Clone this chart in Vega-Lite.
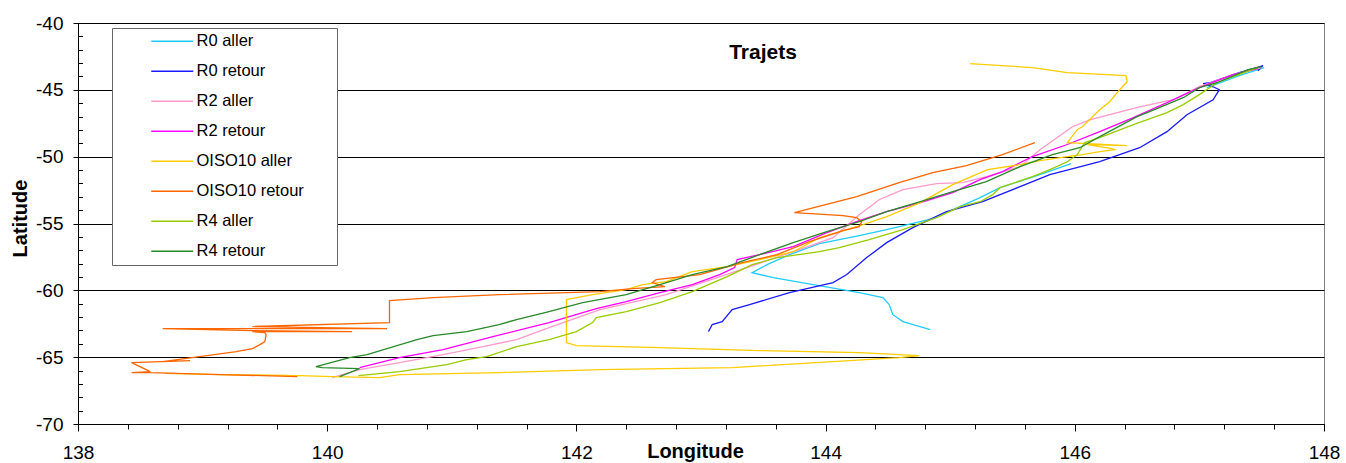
{
  "$schema": "https://vega.github.io/schema/vega-lite/v6.json",
  "width": 1246,
  "height": 401,
  "autosize": {"type": "none"},
  "padding": {"left": 78, "top": 23, "right": 22, "bottom": 39},
  "background": "white",
  "config": {"view": {"stroke": "#808080", "strokeWidth": 1}, "font": "Liberation Sans"},
  "title": {"text": "Trajets", "fontSize": 21, "fontWeight": "bold", "font": "Liberation Sans", "color": "#000", "anchor": "middle", "frame": "group", "dx": 62, "offset": -49},
  "layer": [
    {
      "data": {"values": [
        {"s":"R0 aller","i":1,"lon":147.52,"lat":-43.34},
        {"s":"R0 aller","i":2,"lon":147.32,"lat":-43.94},
        {"s":"R0 aller","i":3,"lon":147.06,"lat":-44.84},
        {"s":"R0 aller","i":4,"lon":null,"lat":null},
        {"s":"R0 aller","i":5,"lon":145.97,"lat":-50.52},
        {"s":"R0 aller","i":6,"lon":145.72,"lat":-51.35},
        {"s":"R0 aller","i":7,"lon":145.40,"lat":-52.32},
        {"s":"R0 aller","i":8,"lon":145.24,"lat":-53.07},
        {"s":"R0 aller","i":9,"lon":144.86,"lat":-54.64},
        {"s":"R0 aller","i":10,"lon":144.49,"lat":-55.46},
        {"s":"R0 aller","i":11,"lon":144.27,"lat":-55.91},
        {"s":"R0 aller","i":12,"lon":143.95,"lat":-56.51},
        {"s":"R0 aller","i":13,"lon":143.71,"lat":-57.33},
        {"s":"R0 aller","i":14,"lon":143.53,"lat":-58.08},
        {"s":"R0 aller","i":15,"lon":143.41,"lat":-58.68},
        {"s":"R0 aller","i":16,"lon":143.58,"lat":-59.05},
        {"s":"R0 aller","i":17,"lon":143.90,"lat":-59.57},
        {"s":"R0 aller","i":18,"lon":144.27,"lat":-60.17},
        {"s":"R0 aller","i":19,"lon":144.46,"lat":-60.54},
        {"s":"R0 aller","i":20,"lon":144.51,"lat":-61.07},
        {"s":"R0 aller","i":21,"lon":144.54,"lat":-61.82},
        {"s":"R0 aller","i":22,"lon":144.62,"lat":-62.34},
        {"s":"R0 aller","i":23,"lon":144.84,"lat":-62.94},

        {"s":"R0 retour","i":1,"lon":143.06,"lat":-63.09},
        {"s":"R0 retour","i":2,"lon":143.09,"lat":-62.56},
        {"s":"R0 retour","i":3,"lon":143.17,"lat":-62.34},
        {"s":"R0 retour","i":4,"lon":143.25,"lat":-61.44},
        {"s":"R0 retour","i":5,"lon":143.39,"lat":-61.07},
        {"s":"R0 retour","i":6,"lon":143.71,"lat":-60.17},
        {"s":"R0 retour","i":7,"lon":144.06,"lat":-59.42},
        {"s":"R0 retour","i":8,"lon":144.17,"lat":-58.82},
        {"s":"R0 retour","i":9,"lon":144.33,"lat":-57.55},
        {"s":"R0 retour","i":10,"lon":144.49,"lat":-56.43},
        {"s":"R0 retour","i":11,"lon":144.70,"lat":-55.31},
        {"s":"R0 retour","i":12,"lon":144.97,"lat":-54.11},
        {"s":"R0 retour","i":13,"lon":145.26,"lat":-53.36},
        {"s":"R0 retour","i":14,"lon":145.80,"lat":-51.35},
        {"s":"R0 retour","i":15,"lon":146.20,"lat":-50.37},
        {"s":"R0 retour","i":16,"lon":146.52,"lat":-49.33},
        {"s":"R0 retour","i":17,"lon":146.74,"lat":-48.13},
        {"s":"R0 retour","i":18,"lon":146.90,"lat":-46.86},
        {"s":"R0 retour","i":19,"lon":147.11,"lat":-45.74},
        {"s":"R0 retour","i":20,"lon":147.16,"lat":-44.99},
        {"s":"R0 retour","i":21,"lon":147.11,"lat":-44.77},
        {"s":"R0 retour","i":22,"lon":147.03,"lat":-44.54},
        {"s":"R0 retour","i":23,"lon":147.08,"lat":-44.47},
        {"s":"R0 retour","i":24,"lon":147.32,"lat":-43.72},
        {"s":"R0 retour","i":25,"lon":147.46,"lat":-43.34},
        {"s":"R0 retour","i":26,"lon":147.51,"lat":-43.19},
        {"s":"R0 retour","i":27,"lon":147.47,"lat":-43.57},

        {"s":"R2 aller","i":1,"lon":147.50,"lat":-43.34},
        {"s":"R2 aller","i":2,"lon":147.27,"lat":-43.87},
        {"s":"R2 aller","i":3,"lon":147.00,"lat":-44.76},
        {"s":"R2 aller","i":4,"lon":146.79,"lat":-45.74},
        {"s":"R2 aller","i":5,"lon":146.52,"lat":-46.27},
        {"s":"R2 aller","i":6,"lon":146.28,"lat":-46.86},
        {"s":"R2 aller","i":7,"lon":146.12,"lat":-47.24},
        {"s":"R2 aller","i":8,"lon":145.98,"lat":-47.76},
        {"s":"R2 aller","i":9,"lon":145.80,"lat":-48.96},
        {"s":"R2 aller","i":10,"lon":145.72,"lat":-49.48},
        {"s":"R2 aller","i":11,"lon":145.56,"lat":-50.75},
        {"s":"R2 aller","i":12,"lon":145.29,"lat":-51.50},
        {"s":"R2 aller","i":13,"lon":145.10,"lat":-51.94},
        {"s":"R2 aller","i":14,"lon":144.89,"lat":-52.02},
        {"s":"R2 aller","i":15,"lon":144.62,"lat":-52.47},
        {"s":"R2 aller","i":16,"lon":144.43,"lat":-53.22},
        {"s":"R2 aller","i":17,"lon":144.27,"lat":-54.34},
        {"s":"R2 aller","i":18,"lon":144.06,"lat":-56.06},
        {"s":"R2 aller","i":19,"lon":143.79,"lat":-56.95},
        {"s":"R2 aller","i":20,"lon":143.25,"lat":-58.68},
        {"s":"R2 aller","i":21,"lon":142.72,"lat":-60.32},
        {"s":"R2 aller","i":22,"lon":142.19,"lat":-61.44},
        {"s":"R2 aller","i":23,"lon":141.78,"lat":-62.79},
        {"s":"R2 aller","i":24,"lon":141.52,"lat":-63.69},
        {"s":"R2 aller","i":25,"lon":141.25,"lat":-64.21},
        {"s":"R2 aller","i":26,"lon":140.93,"lat":-64.81},
        {"s":"R2 aller","i":27,"lon":140.58,"lat":-65.41},
        {"s":"R2 aller","i":28,"lon":140.26,"lat":-65.93},
        {"s":"R2 aller","i":29,"lon":140.04,"lat":-66.53},

        {"s":"R2 retour","i":1,"lon":140.26,"lat":-65.78},
        {"s":"R2 retour","i":2,"lon":140.58,"lat":-65.03},
        {"s":"R2 retour","i":3,"lon":140.93,"lat":-64.43},
        {"s":"R2 retour","i":4,"lon":141.33,"lat":-63.46},
        {"s":"R2 retour","i":5,"lon":141.78,"lat":-62.41},
        {"s":"R2 retour","i":6,"lon":142.16,"lat":-61.37},
        {"s":"R2 retour","i":7,"lon":142.40,"lat":-60.84},
        {"s":"R2 retour","i":8,"lon":142.67,"lat":-60.17},
        {"s":"R2 retour","i":9,"lon":142.93,"lat":-59.57},
        {"s":"R2 retour","i":10,"lon":143.15,"lat":-58.82},
        {"s":"R2 retour","i":11,"lon":143.27,"lat":-58.30},
        {"s":"R2 retour","i":12,"lon":143.29,"lat":-57.70},
        {"s":"R2 retour","i":13,"lon":143.47,"lat":-57.33},
        {"s":"R2 retour","i":14,"lon":143.74,"lat":-56.73},
        {"s":"R2 retour","i":15,"lon":144.01,"lat":-55.68},
        {"s":"R2 retour","i":16,"lon":144.27,"lat":-54.79},
        {"s":"R2 retour","i":17,"lon":144.49,"lat":-54.11},
        {"s":"R2 retour","i":18,"lon":144.76,"lat":-53.44},
        {"s":"R2 retour","i":19,"lon":145.02,"lat":-52.69},
        {"s":"R2 retour","i":20,"lon":145.24,"lat":-51.72},
        {"s":"R2 retour","i":21,"lon":145.42,"lat":-51.12},
        {"s":"R2 retour","i":22,"lon":145.66,"lat":-49.99},
        {"s":"R2 retour","i":23,"lon":145.94,"lat":-49.09},
        {"s":"R2 retour","i":24,"lon":146.20,"lat":-48.13},
        {"s":"R2 retour","i":25,"lon":146.47,"lat":-47.08},
        {"s":"R2 retour","i":26,"lon":146.74,"lat":-45.96},
        {"s":"R2 retour","i":27,"lon":147.00,"lat":-44.84},
        {"s":"R2 retour","i":28,"lon":147.27,"lat":-43.87},
        {"s":"R2 retour","i":29,"lon":147.47,"lat":-43.42},

        {"s":"OISO10 aller","i":1,"lon":145.16,"lat":-43.04},
        {"s":"OISO10 aller","i":2,"lon":145.66,"lat":-43.34},
        {"s":"OISO10 aller","i":3,"lon":145.94,"lat":-43.72},
        {"s":"OISO10 aller","i":4,"lon":146.41,"lat":-43.94},
        {"s":"OISO10 aller","i":5,"lon":146.42,"lat":-44.39},
        {"s":"OISO10 aller","i":6,"lon":146.36,"lat":-44.99},
        {"s":"OISO10 aller","i":7,"lon":146.28,"lat":-45.89},
        {"s":"OISO10 aller","i":8,"lon":146.20,"lat":-46.49},
        {"s":"OISO10 aller","i":9,"lon":146.06,"lat":-47.76},
        {"s":"OISO10 aller","i":10,"lon":146.02,"lat":-47.98},
        {"s":"OISO10 aller","i":11,"lon":145.94,"lat":-48.95},
        {"s":"OISO10 aller","i":12,"lon":146.42,"lat":-49.18},
        {"s":"OISO10 aller","i":13,"lon":146.10,"lat":-49.10},
        {"s":"OISO10 aller","i":14,"lon":146.30,"lat":-49.40},
        {"s":"OISO10 aller","i":15,"lon":146.32,"lat":-49.48},
        {"s":"OISO10 aller","i":16,"lon":146.20,"lat":-49.63},
        {"s":"OISO10 aller","i":17,"lon":146.06,"lat":-49.85},
        {"s":"OISO10 aller","i":18,"lon":145.94,"lat":-50.00},
        {"s":"OISO10 aller","i":19,"lon":145.72,"lat":-50.30},
        {"s":"OISO10 aller","i":20,"lon":145.56,"lat":-50.60},
        {"s":"OISO10 aller","i":21,"lon":145.30,"lat":-50.97},
        {"s":"OISO10 aller","i":22,"lon":145.02,"lat":-52.09},
        {"s":"OISO10 aller","i":23,"lon":144.76,"lat":-53.44},
        {"s":"OISO10 aller","i":24,"lon":144.49,"lat":-54.49},
        {"s":"OISO10 aller","i":25,"lon":144.30,"lat":-55.08},
        {"s":"OISO10 aller","i":26,"lon":144.09,"lat":-55.68},
        {"s":"OISO10 aller","i":27,"lon":143.95,"lat":-56.06},
        {"s":"OISO10 aller","i":28,"lon":143.74,"lat":-57.11},
        {"s":"OISO10 aller","i":29,"lon":143.47,"lat":-57.70},
        {"s":"OISO10 aller","i":30,"lon":143.21,"lat":-58.23},
        {"s":"OISO10 aller","i":31,"lon":142.93,"lat":-58.60},
        {"s":"OISO10 aller","i":32,"lon":142.72,"lat":-59.35},
        {"s":"OISO10 aller","i":33,"lon":142.53,"lat":-59.57},
        {"s":"OISO10 aller","i":34,"lon":142.40,"lat":-59.95},
        {"s":"OISO10 aller","i":35,"lon":142.13,"lat":-60.32},
        {"s":"OISO10 aller","i":36,"lon":141.92,"lat":-60.69},
        {"s":"OISO10 aller","i":37,"lon":141.92,"lat":-63.91},
        {"s":"OISO10 aller","i":38,"lon":142.00,"lat":-64.13},
        {"s":"OISO10 aller","i":39,"lon":142.67,"lat":-64.28},
        {"s":"OISO10 aller","i":40,"lon":143.47,"lat":-64.51},
        {"s":"OISO10 aller","i":41,"lon":144.27,"lat":-64.66},
        {"s":"OISO10 aller","i":42,"lon":144.75,"lat":-64.88},
        {"s":"OISO10 aller","i":43,"lon":144.59,"lat":-65.03},
        {"s":"OISO10 aller","i":44,"lon":143.25,"lat":-65.78},
        {"s":"OISO10 aller","i":45,"lon":142.19,"lat":-65.93},
        {"s":"OISO10 aller","i":46,"lon":141.38,"lat":-66.15},
        {"s":"OISO10 aller","i":47,"lon":140.58,"lat":-66.30},
        {"s":"OISO10 aller","i":48,"lon":140.42,"lat":-66.53},
        {"s":"OISO10 aller","i":49,"lon":140.04,"lat":-66.45},
        {"s":"OISO10 aller","i":50,"lon":139.78,"lat":-66.38},
        {"s":"OISO10 aller","i":51,"lon":139.14,"lat":-66.30},
        {"s":"OISO10 aller","i":52,"lon":138.70,"lat":-66.22},

        {"s":"OISO10 retour","i":1,"lon":139.76,"lat":-66.45},
        {"s":"OISO10 retour","i":2,"lon":139.14,"lat":-66.30},
        {"s":"OISO10 retour","i":3,"lon":138.58,"lat":-66.15},
        {"s":"OISO10 retour","i":4,"lon":138.43,"lat":-66.15},
        {"s":"OISO10 retour","i":5,"lon":138.58,"lat":-66.08},
        {"s":"OISO10 retour","i":6,"lon":138.43,"lat":-65.41},
        {"s":"OISO10 retour","i":7,"lon":138.90,"lat":-65.26},
        {"s":"OISO10 retour","i":8,"lon":138.68,"lat":-65.33},
        {"s":"OISO10 retour","i":9,"lon":139.27,"lat":-64.58},
        {"s":"OISO10 retour","i":10,"lon":139.40,"lat":-64.36},
        {"s":"OISO10 retour","i":11,"lon":139.46,"lat":-64.06},
        {"s":"OISO10 retour","i":12,"lon":139.50,"lat":-63.84},
        {"s":"OISO10 retour","i":13,"lon":139.51,"lat":-63.31},
        {"s":"OISO10 retour","i":14,"lon":139.50,"lat":-63.16},
        {"s":"OISO10 retour","i":15,"lon":139.40,"lat":-63.09},
        {"s":"OISO10 retour","i":16,"lon":140.20,"lat":-63.09},
        {"s":"OISO10 retour","i":17,"lon":139.40,"lat":-63.01},
        {"s":"OISO10 retour","i":18,"lon":138.68,"lat":-62.86},
        {"s":"OISO10 retour","i":19,"lon":140.48,"lat":-62.86},
        {"s":"OISO10 retour","i":20,"lon":139.40,"lat":-62.71},
        {"s":"OISO10 retour","i":21,"lon":140.50,"lat":-62.41},
        {"s":"OISO10 retour","i":22,"lon":140.50,"lat":-60.76},
        {"s":"OISO10 retour","i":23,"lon":140.85,"lat":-60.54},
        {"s":"OISO10 retour","i":24,"lon":141.38,"lat":-60.32},
        {"s":"OISO10 retour","i":25,"lon":142.19,"lat":-60.10},
        {"s":"OISO10 retour","i":26,"lon":142.45,"lat":-59.87},
        {"s":"OISO10 retour","i":27,"lon":142.71,"lat":-59.72},
        {"s":"OISO10 retour","i":28,"lon":142.61,"lat":-59.42},
        {"s":"OISO10 retour","i":29,"lon":142.64,"lat":-59.20},
        {"s":"OISO10 retour","i":30,"lon":142.99,"lat":-58.82},
        {"s":"OISO10 retour","i":31,"lon":143.33,"lat":-57.93},
        {"s":"OISO10 retour","i":32,"lon":143.61,"lat":-57.33},
        {"s":"OISO10 retour","i":33,"lon":143.87,"lat":-56.36},
        {"s":"OISO10 retour","i":34,"lon":144.14,"lat":-55.53},
        {"s":"OISO10 retour","i":35,"lon":144.27,"lat":-55.23},
        {"s":"OISO10 retour","i":36,"lon":144.29,"lat":-54.86},
        {"s":"OISO10 retour","i":37,"lon":144.25,"lat":-54.56},
        {"s":"OISO10 retour","i":38,"lon":144.14,"lat":-54.41},
        {"s":"OISO10 retour","i":39,"lon":143.75,"lat":-54.19},
        {"s":"OISO10 retour","i":40,"lon":144.25,"lat":-52.99},
        {"s":"OISO10 retour","i":41,"lon":144.59,"lat":-51.94},
        {"s":"OISO10 retour","i":42,"lon":144.86,"lat":-51.19},
        {"s":"OISO10 retour","i":43,"lon":145.13,"lat":-50.67},
        {"s":"OISO10 retour","i":44,"lon":145.42,"lat":-49.85},
        {"s":"OISO10 retour","i":45,"lon":145.68,"lat":-48.95},

        {"s":"R4 aller","i":1,"lon":147.47,"lat":-43.34},
        {"s":"R4 aller","i":2,"lon":147.27,"lat":-44.01},
        {"s":"R4 aller","i":3,"lon":147.14,"lat":-44.47},
        {"s":"R4 aller","i":4,"lon":147.00,"lat":-45.36},
        {"s":"R4 aller","i":5,"lon":146.87,"lat":-46.11},
        {"s":"R4 aller","i":6,"lon":146.74,"lat":-46.71},
        {"s":"R4 aller","i":7,"lon":146.47,"lat":-47.61},
        {"s":"R4 aller","i":8,"lon":146.20,"lat":-48.58},
        {"s":"R4 aller","i":9,"lon":146.08,"lat":-48.95},
        {"s":"R4 aller","i":10,"lon":146.02,"lat":-49.85},
        {"s":"R4 aller","i":11,"lon":145.94,"lat":-50.38},
        {"s":"R4 aller","i":12,"lon":145.80,"lat":-50.97},
        {"s":"R4 aller","i":13,"lon":145.66,"lat":-51.50},
        {"s":"R4 aller","i":14,"lon":145.40,"lat":-52.32},
        {"s":"R4 aller","i":15,"lon":145.34,"lat":-52.84},
        {"s":"R4 aller","i":16,"lon":145.24,"lat":-53.37},
        {"s":"R4 aller","i":17,"lon":145.08,"lat":-53.74},
        {"s":"R4 aller","i":18,"lon":144.89,"lat":-54.56},
        {"s":"R4 aller","i":19,"lon":144.62,"lat":-55.46},
        {"s":"R4 aller","i":20,"lon":144.35,"lat":-56.21},
        {"s":"R4 aller","i":21,"lon":144.11,"lat":-56.81},
        {"s":"R4 aller","i":22,"lon":143.95,"lat":-57.11},
        {"s":"R4 aller","i":23,"lon":143.61,"lat":-57.56},
        {"s":"R4 aller","i":24,"lon":143.41,"lat":-58.08},
        {"s":"R4 aller","i":25,"lon":143.21,"lat":-58.98},
        {"s":"R4 aller","i":26,"lon":142.93,"lat":-60.10},
        {"s":"R4 aller","i":27,"lon":142.67,"lat":-60.92},
        {"s":"R4 aller","i":28,"lon":142.40,"lat":-61.59},
        {"s":"R4 aller","i":29,"lon":142.16,"lat":-62.04},
        {"s":"R4 aller","i":30,"lon":142.13,"lat":-62.41},
        {"s":"R4 aller","i":31,"lon":142.00,"lat":-63.09},
        {"s":"R4 aller","i":32,"lon":141.78,"lat":-63.69},
        {"s":"R4 aller","i":33,"lon":141.52,"lat":-64.21},
        {"s":"R4 aller","i":34,"lon":141.28,"lat":-64.96},
        {"s":"R4 aller","i":35,"lon":141.12,"lat":-65.18},
        {"s":"R4 aller","i":36,"lon":140.96,"lat":-65.56},
        {"s":"R4 aller","i":37,"lon":140.58,"lat":-66.08},
        {"s":"R4 aller","i":38,"lon":140.25,"lat":-66.38},

        {"s":"R4 retour","i":1,"lon":140.10,"lat":-66.45},
        {"s":"R4 retour","i":2,"lon":140.26,"lat":-65.86},
        {"s":"R4 retour","i":3,"lon":139.96,"lat":-65.78},
        {"s":"R4 retour","i":4,"lon":139.91,"lat":-65.71},
        {"s":"R4 retour","i":5,"lon":140.18,"lat":-65.03},
        {"s":"R4 retour","i":6,"lon":140.32,"lat":-64.81},
        {"s":"R4 retour","i":7,"lon":140.72,"lat":-63.69},
        {"s":"R4 retour","i":8,"lon":140.85,"lat":-63.39},
        {"s":"R4 retour","i":9,"lon":141.12,"lat":-63.09},
        {"s":"R4 retour","i":10,"lon":141.38,"lat":-62.56},
        {"s":"R4 retour","i":11,"lon":141.52,"lat":-62.19},
        {"s":"R4 retour","i":12,"lon":141.78,"lat":-61.59},
        {"s":"R4 retour","i":13,"lon":142.05,"lat":-60.92},
        {"s":"R4 retour","i":14,"lon":142.40,"lat":-60.32},
        {"s":"R4 retour","i":15,"lon":142.67,"lat":-59.57},
        {"s":"R4 retour","i":16,"lon":142.93,"lat":-58.82},
        {"s":"R4 retour","i":17,"lon":143.21,"lat":-58.23},
        {"s":"R4 retour","i":18,"lon":143.47,"lat":-57.33},
        {"s":"R4 retour","i":19,"lon":143.74,"lat":-56.43},
        {"s":"R4 retour","i":20,"lon":144.01,"lat":-55.61},
        {"s":"R4 retour","i":21,"lon":144.27,"lat":-54.86},
        {"s":"R4 retour","i":22,"lon":144.49,"lat":-54.11},
        {"s":"R4 retour","i":23,"lon":144.76,"lat":-53.36},
        {"s":"R4 retour","i":24,"lon":145.02,"lat":-52.62},
        {"s":"R4 retour","i":25,"lon":145.29,"lat":-51.87},
        {"s":"R4 retour","i":26,"lon":145.56,"lat":-50.75},
        {"s":"R4 retour","i":27,"lon":145.82,"lat":-49.85},
        {"s":"R4 retour","i":28,"lon":146.04,"lat":-49.33},
        {"s":"R4 retour","i":29,"lon":146.20,"lat":-48.50},
        {"s":"R4 retour","i":30,"lon":146.50,"lat":-47.01},
        {"s":"R4 retour","i":31,"lon":146.60,"lat":-46.63},
        {"s":"R4 retour","i":32,"lon":146.87,"lat":-45.59},
        {"s":"R4 retour","i":33,"lon":147.00,"lat":-44.84},
        {"s":"R4 retour","i":34,"lon":147.14,"lat":-44.47},
        {"s":"R4 retour","i":35,"lon":147.39,"lat":-43.49},
        {"s":"R4 retour","i":36,"lon":147.50,"lat":-43.27}
      ]},
      "mark": {"type": "line", "strokeWidth": 1.3, "invalid": "break-paths-show-domains"},
      "encoding": {
        "x": {
          "field": "lon", "type": "quantitative",
          "scale": {"domain": [138, 148], "nice": false, "zero": false},
          "axis": {
            "orient": "bottom", "values": [138, 140, 142, 144, 146, 148], "format": "d",
            "grid": false, "domainColor": "#000", "tickColor": "#000", "tickSize": 7,
            "labelFontSize": 19, "labelColor": "#000", "labelPadding": 12, "labelFlush": false, "labelOverlap": false,
            "title": "Longitude", "titleFontSize": 20, "titleFontWeight": "bold", "titleColor": "#000",
            "titleX": 617, "titleY": 17, "titleAlign": "center", "titleBaseline": "top"
          }
        },
        "y": {
          "field": "lat", "type": "quantitative",
          "scale": {"domain": [-70, -40], "nice": false, "zero": false},
          "axis": {
            "orient": "left", "values": [-70, -65, -60, -55, -50, -45, -40],
            "labelExpr": "'' + datum.value",
            "grid": true, "gridColor": "#000", "gridWidth": 1, "gridOpacity": 1,
            "domainColor": "#000", "tickColor": "#000", "tickSize": 5,
            "labelFontSize": 19, "labelColor": "#000", "labelPadding": 10, "labelFlush": false, "labelOverlap": false,
            "title": "Latitude", "titleFontSize": 20, "titleFontWeight": "bold", "titleColor": "#000",
            "titleAngle": 270, "titleX": -58, "titleY": 195, "titleAlign": "center", "titleBaseline": "middle"
          }
        },
        "color": {
          "field": "s", "type": "nominal",
          "scale": {
            "domain": ["R0 aller", "R0 retour", "R2 aller", "R2 retour", "OISO10 aller", "OISO10 retour", "R4 aller", "R4 retour"],
            "range": ["#22CCFF", "#1A1AFF", "#FF99CC", "#FF00FF", "#FFCC00", "#FF6600", "#99CC00", "#2A8A2A"]
          },
          "legend": {
            "orient": "none", "legendX": 34, "legendY": 5, "title": null,
            "padding": 5, "strokeColor": "#666", "fillColor": "#fff",
            "labelFontSize": 16.5, "labelColor": "#000", "labelFont": "Liberation Sans",
            "symbolType": "M-3,0H3", "symbolSize": 196, "symbolStrokeWidth": 1.5,
            "symbolOffset": 47, "labelOffset": 16, "rowPadding": 13,
            "labelExpr": "datum.label + '\u00a0\u00a0\u00a0\u00a0\u00a0\u00a0\u200b'"
          }
        },
        "order": {"field": "i", "type": "quantitative"}
      }
    },
    {
      "data": {"values": []},
      "mark": "point",
      "encoding": {
        "x": {
          "field": "lon", "type": "quantitative",
          "axis": {"orient": "bottom", "values": [138.4, 138.8, 139.2, 139.6, 140.4, 140.8, 141.2, 141.6, 142.4, 142.8, 143.2, 143.6, 144.4, 144.8, 145.2, 145.6, 146.4, 146.8, 147.2, 147.6],
                   "labels": false, "domain": false, "grid": false, "title": null, "tickSize": 5, "tickColor": "#000"}
        },
        "y": {
          "field": "lat", "type": "quantitative",
          "axis": {"orient": "left", "values": [-70, -69, -68, -67, -66, -65, -64, -63, -62, -61, -60, -59, -58, -57, -56, -55, -54, -53, -52, -51, -50, -49, -48, -47, -46, -45, -44, -43, -42, -41, -40],
                   "labels": false, "domain": false, "grid": false, "title": null, "tickSize": -4.5, "tickColor": "#000"}
        }
      }
    }
  ],
  "resolve": {"axis": {"x": "independent", "y": "independent"}}
}
